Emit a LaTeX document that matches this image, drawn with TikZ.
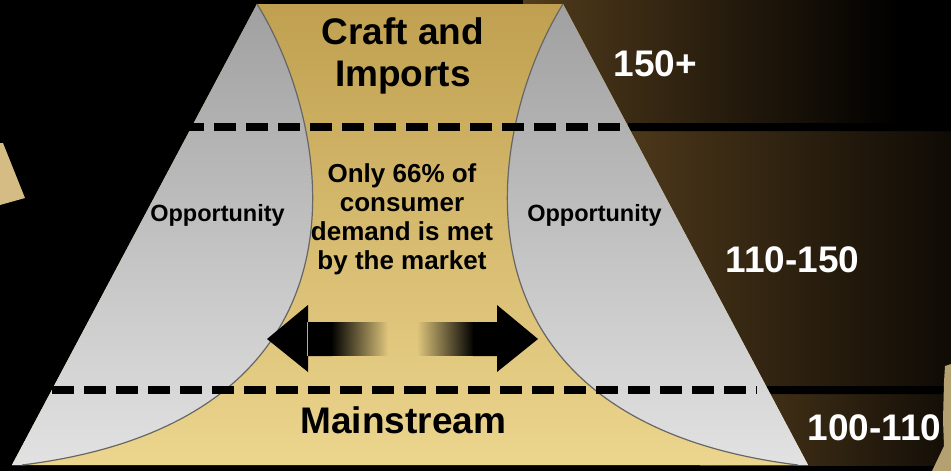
\documentclass[tikz,border=0pt]{standalone}
\usepackage{fontspec}
\setmainfont{Liberation Sans}
\usetikzlibrary{fadings}
\definecolor{gold}{RGB}{192,160,80}
\definecolor{paleGold}{RGB}{236,213,142}
\definecolor{darkGrey}{RGB}{160,160,160}
\definecolor{paleGrey}{RGB}{226,226,226}
\definecolor{band}{RGB}{82,60,28}
\definecolor{crate}{RGB}{212,188,132}
\tikzfading[name=fade right, left color=transparent!0, right color=transparent!100]
\tikzfading[name=fade left, left color=transparent!100, right color=transparent!0]
\begin{document}
\begin{tikzpicture}[x=1pt,y=-1pt,
    big/.style={font=\bfseries\fontsize{37}{42}\selectfont},
    small/.style={font=\bfseries\fontsize{23.5}{28}\selectfont},
    tier/.style={big,white,anchor=base},
    divider/.style={line width=8pt,dash pattern=on 22pt off 10pt}]
    \useasboundingbox (0,0) rectangle (951,471);
    \fill[black] (0,0) rectangle (951,471);
    % brown bands behind the funnel
    \shade[left color=band,right color=black] (523,0) rectangle (900,127);
    \shade[left color=band,right color=band!18!black] (600,127) rectangle (951,390);
    \shade[left color=band,right color=band!22!black] (700,390) rectangle (951,465);
    \fill[black] (628,123) rectangle (951,131) (757,386) rectangle (951,394);
    % bits of crates at the edges
    \fill[crate] (0,143) -- (3,143) -- (25,198) -- (0,205) -- cycle;
    \fill[crate!85!black] (945,366) -- (951,364) -- (951,471) -- (932,471) -- (944,446) -- (943,420) -- (944,382) -- cycle;
    % funnel
    \coordinate (A) at (257,4);
    \coordinate (B) at (563,4);
    \coordinate (C) at (808,465);
    \coordinate (D) at (12,465);
    \shade[top color=gold,bottom color=paleGold] (A) -- (B) -- (C) -- (D) -- cycle;
    \shade[top color=darkGrey,bottom color=paleGrey] (A) -- (D) -- (22,465) .. controls (385,420) and (335,130) .. (A);
    \shade[top color=darkGrey,bottom color=paleGrey] (B) -- (C) -- (798,465) .. controls (435,420) and (485,130) .. (B);
    \draw[black!60,line width=1.2pt] (A) .. controls (335,130) and (385,420) .. (22,465);
    \draw[black!60,line width=1.2pt] (B) .. controls (485,130) and (435,420) .. (798,465);
    \draw[divider] (182,127) -- (628,127);
    \draw[divider] (52,390) -- (757,390);
    % double arrow fading out in the middle
    \fill (267,339) -- (308,305) -- (308,372) -- cycle (307,322) rectangle (332,356);
    \fill[path fading=fade right] (331,322) rectangle (388,356);
    \fill (538,339) -- (497,305) -- (497,372) -- cycle (473,322) rectangle (498,356);
    \fill[path fading=fade left] (417,322) rectangle (474,356);
    % labels
    \node[big,align=center] (craft) at (403,56) {Craft and\\Imports};
    \node[font=\bfseries\fontsize{26}{29}\selectfont,align=center] (demand) at (402,219)
        {Only 66\% of\\consumer\\demand is met\\by the market};
    \node[small,anchor=base] (oppL) at (217.5,221.7) {Opportunity};
    \node[small,anchor=base] (oppR) at (594.5,221.7) {Opportunity};
    \node[big,anchor=base] (main) at (403.4,433.3) {Mainstream};
    \node[tier] (top) at (655.5,76) {150+};
    \node[tier] (mid) at (792.5,272.7) {110-150};
    \node[tier] (low) at (874.5,440) {100-110};
\end{tikzpicture}
\end{document}
